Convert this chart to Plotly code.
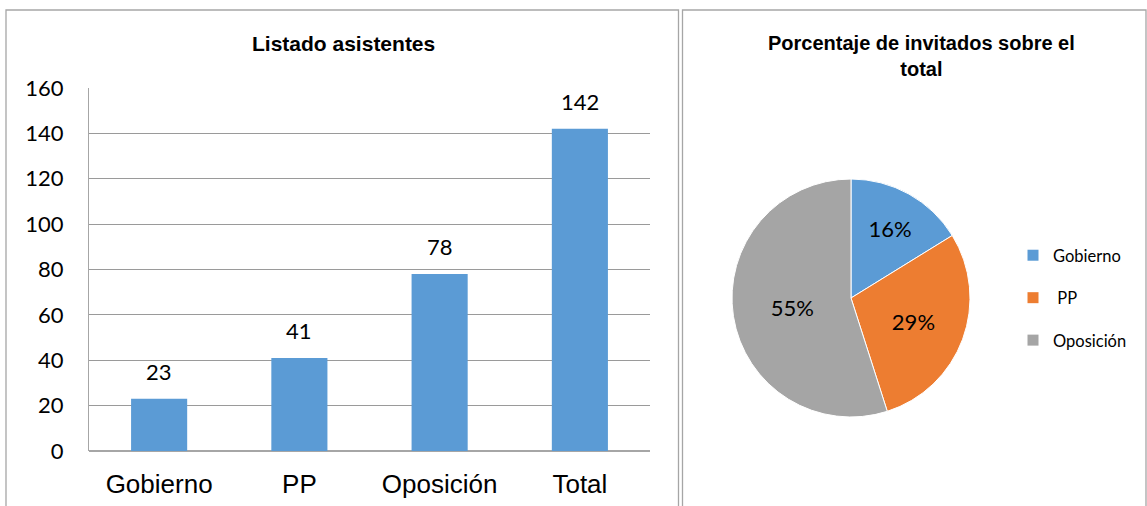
import plotly.graph_objects as go

W, H = 1147, 506

categories = ["Gobierno", "PP", "Oposición", "Total"]
values = [23, 41, 78, 142]
pie_labels = ["Gobierno", "PP", "Oposición"]
legend_names = ["Gobierno", "\u00a0PP", "Oposición"]
pie_values = [23, 41, 78]
pie_colors = ["#5B9BD5", "#ED7D31", "#A5A5A5"]
y_ticks = [0, 20, 40, 60, 80, 100, 120, 140, 160]

def px_x(x):
    return x / W

def px_y(y):
    return 1 - y / H

NUM_FONT = "Lato, Noto Sans, sans-serif"
ARIAL = "Liberation Sans, Arial, sans-serif"

fig = go.Figure()

fig.add_trace(go.Bar(
    x=categories, y=values, width=0.4,
    marker=dict(color="#5B9BD5", line=dict(width=0)),
    showlegend=False, hoverinfo="skip",
))

fig.add_trace(go.Pie(
    labels=pie_labels, values=pie_values, sort=False, direction="clockwise",
    rotation=0,
    marker=dict(colors=pie_colors, line=dict(color="#FFFFFF", width=1)),
    textinfo="percent", texttemplate="%{percent:.0%}", textposition="inside",
    insidetextorientation="horizontal",
    textfont=dict(family=NUM_FONT, size=22, color="#000000"),
    domain=dict(x=[px_x(851 - 119), px_x(851 + 119)], y=[px_y(417), px_y(179)]),
    hoverinfo="skip", showlegend=False,
))

# legend entries (one group per slice so spacing can match the reference)
for name, color in zip(legend_names, pie_colors):
    fig.add_trace(go.Scatter(
        x=[None], y=[None], mode="markers", name=name, legendgroup=name,
        marker=dict(symbol="square", size=11, color=color),
        hoverinfo="skip",
    ))

annotations = [
    dict(text="<b>Listado asistentes</b>", x=px_x(343), y=px_y(44),
         xref="paper", yref="paper", showarrow=False,
         xanchor="center", yanchor="middle",
         font=dict(family=ARIAL, size=21, color="#000000")),
    dict(text="<b>Porcentaje de invitados sobre el<br>total</b>", x=px_x(921), y=px_y(56),
         xref="paper", yref="paper", showarrow=False,
         xanchor="center", yanchor="middle",
         font=dict(family=ARIAL, size=20, color="#000000")),
]
for c, v in zip(categories, values):
    annotations.append(dict(
        text=str(v), x=c, y=v, xref="x", yref="y", showarrow=False,
        xanchor="center", yanchor="bottom", yshift=12,
        font=dict(family=NUM_FONT, size=22, color="#000000"),
    ))

fig.update_layout(
    width=W, height=H,
    margin=dict(l=0, r=0, t=0, b=0, autoexpand=False),
    paper_bgcolor="#FFFFFF", plot_bgcolor="#FFFFFF",
    xaxis=dict(
        domain=[px_x(89), px_x(650)],
        showgrid=False, showline=False, ticks="", zeroline=False,
        tickfont=dict(family=ARIAL, size=26, color="#000000"),
        ticklabelstandoff=15, automargin=False, fixedrange=True,
    ),
    yaxis=dict(
        domain=[px_y(451), px_y(88)],
        range=[0, 160], tickvals=y_ticks,
        showgrid=True, gridcolor="#9A9A9A", gridwidth=1,
        showline=True, linecolor="#A6A6A6", linewidth=1,
        zeroline=True, zerolinecolor="#A6A6A6", zerolinewidth=2,
        ticks="", ticklabelstandoff=20, automargin=False, fixedrange=True,
        tickfont=dict(family=NUM_FONT, size=22, color="#000000"),
    ),
    legend=dict(
        x=px_x(1013), y=px_y(298), xanchor="left", yanchor="middle",
        font=dict(family=NUM_FONT, size=16.5, color="#000000"),
        bgcolor="rgba(0,0,0,0)", itemwidth=30, tracegroupgap=18,
    ),
    annotations=annotations,
    shapes=[
        dict(type="rect", xref="paper", yref="paper",
             x0=px_x(6), x1=px_x(678.5), y0=-0.05, y1=px_y(10),
             line=dict(color="#A6A6A6", width=1.3)),
        dict(type="rect", xref="paper", yref="paper",
             x0=px_x(682.5), x1=px_x(1146), y0=-0.05, y1=px_y(10),
             line=dict(color="#A6A6A6", width=1.3)),
    ],
)

fig.write_html(
    "out.html",
    config={"displayModeBar": False},
    post_script="document.body.style.margin='0px';",
)
